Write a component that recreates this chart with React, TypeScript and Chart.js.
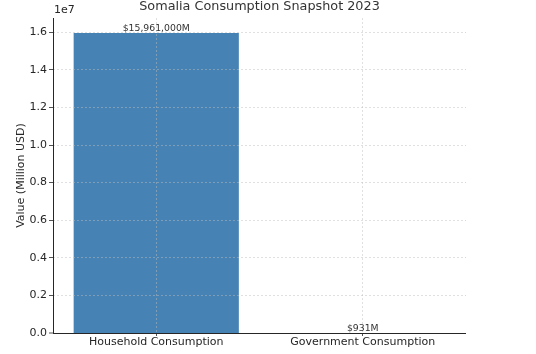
import React, { useEffect, useRef } from 'react';
import { Chart, registerables } from 'chart.js';

Chart.register(...registerables);

const titleText = 'Somalia Consumption Snapshot 2023';
const yAxisTitle = 'Value (Million USD)';
const categories = ['Household Consumption', 'Government Consumption'];
const values = [15961000, 931];
const valueLabels = ['$15,961,000M', '$931M'];
const yTickValues = [0, 2000000, 4000000, 6000000, 8000000, 10000000, 12000000, 14000000, 16000000];
const yMax = 16759050;
const offsetText = '1e7';

const FONT = '"DejaVu Sans", sans-serif';

export default function App() {
  const ref = useRef<HTMLCanvasElement | null>(null);
  useEffect(() => {
    document.body.style.margin = '0';
    const canvas = ref.current;
    if (!canvas) return;
    const textPlugin = {
      id: 'texts',
      afterDraw(chart: any) {
        const ctx = chart.ctx;
        const area = chart.chartArea;
        ctx.save();
        // axis lines
        ctx.strokeStyle = '#262626';
        ctx.lineWidth = 1;
        ctx.setLineDash([]);
        ctx.beginPath();
        ctx.moveTo(Math.round(area.left) + 0.5, area.top);
        ctx.lineTo(Math.round(area.left) + 0.5, Math.round(area.bottom) + 1);
        ctx.moveTo(area.left, Math.round(area.bottom) + 0.5);
        ctx.lineTo(area.right, Math.round(area.bottom) + 0.5);
        ctx.stroke();

        ctx.fillStyle = '#333333';
        ctx.font = `12.8px ${FONT}`;
        ctx.textAlign = 'center';
        ctx.textBaseline = 'middle';
        ctx.fillText(titleText, (area.left + area.right) / 2, 7);
        ctx.font = `11px ${FONT}`;
        ctx.textAlign = 'left';
        ctx.fillStyle = '#262626';
        ctx.fillText(offsetText, area.left + 1, 10);
        ctx.save();
        ctx.translate(21, (area.top + area.bottom) / 2);
        ctx.rotate(-Math.PI / 2);
        ctx.textAlign = 'center';
        ctx.fillText(yAxisTitle, 0, 0);
        ctx.restore();
        const meta = chart.getDatasetMeta(0);
        ctx.font = `9.3px ${FONT}`;
        ctx.fillStyle = '#333333';
        ctx.textAlign = 'center';
        ctx.textBaseline = 'bottom';
        meta.data.forEach((el: any, i: number) => {
          ctx.fillText(valueLabels[i], el.x, el.y);
        });
        ctx.restore();
      },
    };
    const chart = new Chart(canvas, {
      type: 'bar',
      data: {
        labels: categories,
        datasets: [
          {
            data: values,
            backgroundColor: '#4682B4',
            borderWidth: 0,
            inflateAmount: 0,
            barPercentage: 0.8,
            categoryPercentage: 1,
          },
        ],
      },
      options: {
        responsive: false,
        animation: false,
        devicePixelRatio: 1,
        layout: { padding: { left: 0, right: 70, top: 18, bottom: 0 } },
        plugins: { legend: { display: false }, title: { display: false }, tooltip: { enabled: false } },
        scales: {
          x: {
            offset: true,
            grid: {
              offset: false,
              color: 'rgba(190,190,190,0.6)',
              lineWidth: 0.8,
              z: 1,
              tickLength: 3,
              tickColor: '#262626',
            },
            border: { display: false, dash: [2, 2] },
            ticks: { color: '#262626', font: { family: FONT, size: 11 }, padding: 0, maxRotation: 0 },
            afterFit(scale: any) {
              scale.height = 21;
            },
          },
          y: {
            min: 0,
            max: yMax,
            afterBuildTicks(scale: any) {
              scale.ticks = yTickValues.map((v) => ({ value: v }));
            },
            grid: {
              color: 'rgba(190,190,190,0.6)',
              lineWidth: (c: any) => (c.tick && c.tick.value === 0 ? 0 : 0.8),
              z: 1,
              tickLength: 4,
              tickColor: '#262626',
              tickWidth: 0.8,
            },
            border: { display: false, dash: [2, 2] },
            ticks: {
              color: '#262626',
              font: { family: FONT, size: 11 },
              padding: 2,
              callback: (v: any) => (Number(v) / 1e7).toFixed(1),
            },
            afterFit(scale: any) {
              scale.width = 53;
            },
          },
        },
      },
      plugins: [textPlugin],
    });
    return () => chart.destroy();
  }, []);
  return <canvas ref={ref} width={536} height={354} style={{ display: 'block', width: 536, height: 354 }} />;
}
